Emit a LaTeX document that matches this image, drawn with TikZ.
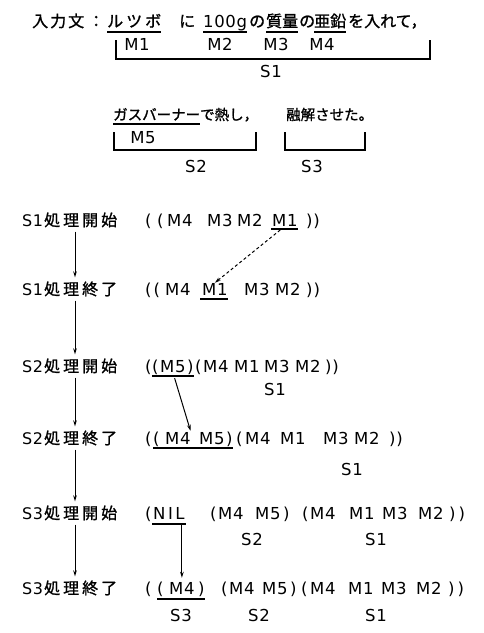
\documentclass[tikz,border=0pt]{standalone}
\usepackage{fontspec}
\setmainfont{DejaVu Sans}
\newfontfamily\lat{DejaVu Sans}[LetterSpace=4]
\newfontfamily\cjk{Noto Sans CJK JP}[FakeBold=1.2]
\usetikzlibrary{arrows.meta,calc}
\tikzset{
  tok/.style={inner sep=0pt, anchor=base west, font=\lat\fontsize{16.5}{19}\selectfont},
  lab/.style={inner sep=0pt, anchor=base, font=\lat\fontsize{16.5}{19}\selectfont},
  jp/.style={inner sep=0pt, anchor=base west, font=\cjk\fontsize{16}{18}\selectfont},
  jps/.style={inner sep=0pt, anchor=base west, font=\cjk\fontsize{14.5}{17}\selectfont},
  ln/.style={line width=1.1pt},
  ul/.style={line width=1.3pt},
  arr/.style={line width=1pt, -{Stealth[length=6pt,width=3.6pt]}},
}
\newcommand\jsp{\hspace{3pt}}
\begin{document}
\begin{tikzpicture}[x=1pt,y=-1pt]
\fill[white] (0,0) rectangle (483,633);
\useasboundingbox (0,0) rectangle (483,633);
% ---- input sentence, line 1
\node[jp] (t0) at (32,27) {入\hspace{2pt}力\hspace{2pt}文\hspace{4pt}：};
\node[jp] (t1) at (107,27) {ル\jsp ツ\jsp ボ};
\node[jp] (t2) at (179,27) {に};
\node[tok] (t3) at (203,27) {100g};
\node[jp] (t4) at (249,27) {の};
\node[jp] (t5) at (266,27) {質量};
\node[jp] (t6) at (299,27) {の};
\node[jp] (t7) at (314,27) {亜鉛};
\node[jp] (t8) at (348,27) {を入れて，};
\foreach \n in {t1,t3,t5,t7}
  \draw[ul] ([yshift=-5pt]\n.base west) -- ([yshift=-5pt]\n.base east);
\node[lab] (m1) at (137,50) {M1};
\node[lab] (m2) at (220,50) {M2};
\node[lab] (m3) at (276,50) {M3};
\node[lab] (m4) at (322,50) {M4};
\draw[ln] (116,40) |- (430,59) -- (430,40);
\node[lab] (s1) at (271,77) {S1};
% ---- input sentence, line 2
\node[jps] (u1) at (113,120) {ガスバーナー};
\node[jps] (u2) at (200,120) {で熱し，};
\node[jps] (u3) at (286,120) {融解させた。};
\draw[ul] ([yshift=-4pt]u1.base west) -- ([yshift=-4pt]u1.base east);
\node[lab] (m5) at (143,143) {M5};
\draw[ln] (114,132) |- (256,150) -- (256,132);
\draw[ln] (285,132) |- (365,150) -- (365,132);
\node[lab] (s2) at (196,172) {S2};
\node[lab] (s3) at (312,172) {S3};
% ---- left state labels
\node[jp] (L1) at (22,226) {{\lat S1}\hspace{1pt}処\jsp 理\jsp 開\jsp 始};
\node[jp] (L2) at (22,295) {{\lat S1}\hspace{1pt}処\jsp 理\jsp 終\jsp 了};
\node[jp] (L3) at (22,372) {{\lat S2}\hspace{1pt}処\jsp 理\jsp 開\jsp 始};
\node[jp] (L4) at (22,444) {{\lat S2}\hspace{1pt}処\jsp 理\jsp 終\jsp 了};
\node[jp] (L5) at (22,519) {{\lat S3}\hspace{1pt}処\jsp 理\jsp 開\jsp 始};
\node[jp] (L6) at (22,594) {{\lat S3}\hspace{1pt}処\jsp 理\jsp 終\jsp 了};
\coordinate (ax) at (75,0);
\foreach \a/\b in {L1/L2,L2/L3,L3/L4,L4/L5,L5/L6}
  \draw[arr,shorten <=4pt,shorten >=4pt] (\a.south -| ax) -- (\b.north -| ax);
% ---- row 1
\node[tok] (r1a) at (145,226) {(};
\node[tok] (r1b) at (157,226) {(};
\node[tok] (r1c) at (167,226) {M4};
\node[tok] (r1d) at (207,226) {M3};
\node[tok] (r1e) at (237,226) {M2};
\node[tok] (r1f) at (272,226) {M1};
\node[tok] (r1g) at (306,226) {))};
\draw[ul] ([xshift=-1pt,yshift=-3pt]r1f.base west) -- ([yshift=-3pt]r1f.base east);
% ---- row 2
\node[tok] (r2a) at (145,295) {(\hspace{2pt}(};
\node[tok] (r2b) at (165,295) {M4};
\node[tok] (r2c) at (202,295) {M1};
\node[tok] (r2d) at (244,295) {M3};
\node[tok] (r2e) at (275,295) {M2};
\node[tok] (r2f) at (306,295) {)\hspace{1pt})};
\draw[ul] ([xshift=-2pt,yshift=-4pt]r2c.base west) -- ([yshift=-4pt]r2c.base east);
\draw[arr,dashed,dash pattern=on 3pt off 2.5pt,shorten <=6pt] (r1f.south) -- (r2c.north);
% ---- row 3
\node[tok] (r3a) at (145,372) {(};
\node[tok] (r3b) at (152,372) {(};
\node[tok] (r3c) at (160,372) {M5};
\node[tok] (r3d) at (187,372) {)};
\node[tok] (r3e) at (195,372) {(};
\node[tok] (r3f) at (203,372) {M4};
\node[tok] (r3g) at (234,372) {M1};
\node[tok] (r3h) at (264,372) {M3};
\node[tok] (r3i) at (295,372) {M2};
\node[tok] (r3j) at (325,372) {))};
\draw[ul] ([yshift=-4pt]r3b.base west) -- ([yshift=-4pt]r3d.base east);
\node[lab] (r3s) at (275,395) {S1};
% ---- row 4
\node[tok] (r4a) at (145,444) {(};
\node[tok] (r4b) at (153,444) {(};
\node[tok] (r4c) at (165,444) {M4};
\node[tok] (r4d) at (199,444) {M5};
\node[tok] (r4e) at (226,444) {)};
\node[tok] (r4f) at (236,444) {(};
\node[tok] (r4g) at (245,444) {M4};
\node[tok] (r4h) at (280,444) {M1};
\node[tok] (r4i) at (323,444) {M3};
\node[tok] (r4j) at (354,444) {M2};
\node[tok] (r4k) at (389,444) {))};
\draw[ul] ([yshift=-4pt]r4b.base west) -- ([yshift=-4pt]r4e.base east);
\node[lab] (r4s) at (352,475) {S1};
\draw[arr,shorten <=6pt,shorten >=1pt] (r3c.south) -- (r4c.north east);
% ---- row 5
\node[tok] (r5a) at (145,519) {(};
\node[tok] (r5b) at (153,519) {N\hspace{2.5pt}I\hspace{2.5pt}L};
\node[tok] (r5c) at (210,519) {(};
\node[tok] (r5d) at (218,519) {M4};
\node[tok] (r5e) at (255,519) {M5};
\node[tok] (r5f) at (283,519) {)};
\node[tok] (r5g) at (302,519) {(};
\node[tok] (r5h) at (310,519) {M4};
\node[tok] (r5i) at (349,519) {M1};
\node[tok] (r5j) at (382,519) {M3};
\node[tok] (r5k) at (418,519) {M2};
\node[tok] (r5l) at (449,519) {)\hspace{3pt})};
\draw[ul] ([xshift=-1pt,yshift=-5pt]r5b.base west) -- ([xshift=1pt,yshift=-5pt]r5b.base east);
\node[lab] (r5s2) at (252,545) {S2};
\node[lab] (r5s1) at (376,545) {S1};
% ---- row 6
\node[tok] (r6a) at (145,594) {(};
\node[tok] (r6b) at (157,594) {(};
\node[tok] (r6c) at (169,594) {M4};
\node[tok] (r6d) at (198,594) {)};
\node[tok] (r6e) at (221,594) {(};
\node[tok] (r6f) at (229,594) {M4};
\node[tok] (r6g) at (262,594) {M5};
\node[tok] (r6h) at (290,594) {)};
\node[tok] (r6i) at (301,594) {(};
\node[tok] (r6j) at (310,594) {M4};
\node[tok] (r6k) at (348,594) {M1};
\node[tok] (r6l) at (381,594) {M3};
\node[tok] (r6m) at (416,594) {M2};
\node[tok] (r6n) at (448,594) {)\hspace{3pt})};
\draw[ul] ([yshift=-5pt]r6b.base west) -- ([yshift=-5pt]r6d.base east);
\node[lab] (r6s3) at (181,621) {S3};
\node[lab] (r6s2) at (259,621) {S2};
\node[lab] (r6s1) at (376,621) {S1};
\draw[arr,shorten <=6pt,shorten >=4pt] (r6c.north |- r5b.south) -- (r6c.north);
\end{tikzpicture}
\end{document}
